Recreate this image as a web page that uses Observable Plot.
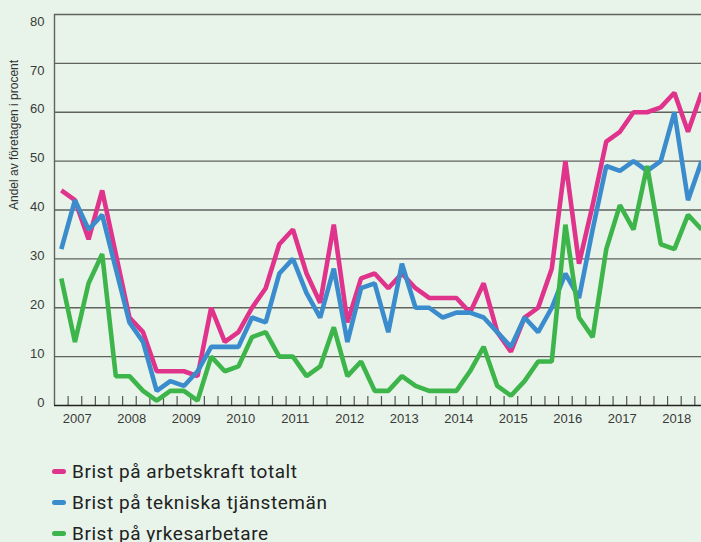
<!DOCTYPE html>
<html>
<head>
<meta charset="utf-8">
<script src="https://cdn.jsdelivr.net/npm/d3@7"></script>
<script src="https://cdn.jsdelivr.net/npm/@observablehq/plot@0.6"></script>
<style>
  html, body { margin: 0; padding: 0; background: #e8f4e9; }
  #chart { width: 701px; height: 542px; position: relative; overflow: hidden; }
  .legend { position: absolute; left: 52px; top: 456px; font-family: Roboto, "Open Sans", sans-serif; font-size: 19px; letter-spacing: 0.55px; color: #222; }
  .legend .row { display: flex; align-items: center; height: 31px; }
  .legend .sw { width: 14px; height: 5px; border-radius: 3px; margin-right: 6px; }
</style>
</head>
<body>
<div id="chart"></div>
<script>
const years = [2007, 2008, 2009, 2010, 2011, 2012, 2013, 2014, 2015, 2016, 2017, 2018];
const seriesNames = ["Brist på arbetskraft totalt", "Brist på tekniska tjänstemän", "Brist på yrkesarbetare"];
const seriesColors = ["#e0338b", "#3b8ccd", "#3db54b"];
const yTicks = [0, 10, 20, 30, 40, 50, 60, 70, 80];
const total = [44,42,34,44,31,18,15,7,7,7,6,20,13,15,20,24,33,36,27,21,37,17,26,27,24,27,24,22,22,22,19,25,15,11,18,20,28,50,29,41,54,56,60,60,61,64,56,64];
const tech  = [32,42,36,39,28,17,13,3,5,4,7,12,12,12,18,17,27,30,23,18,28,13,24,25,15,29,20,20,18,19,19,18,15,12,18,15,20,27,22,36,49,48,50,48,50,60,42,50];
const yrke  = [26,13,25,31,6,6,3,1,3,3,1,10,7,8,14,15,10,10,6,8,16,6,9,3,3,6,4,3,3,3,7,12,4,2,5,9,9,37,18,14,32,41,36,49,33,32,39,36];

const values = [total, tech, yrke];
const rows = [];
values.forEach((arr, s) => arr.forEach((v, i) => rows.push({series: seriesNames[s], q: i + 0.5, value: v})));
const boundaries = d3.range(0, total.length);

const plot = Plot.plot({
  width: 701,
  height: 435,
  marginLeft: 54,
  marginRight: 0,
  marginTop: 14,
  marginBottom: 30,
  style: {background: "transparent", fontFamily: "'Liberation Sans', Arial, sans-serif"},
  x: {type: "linear", domain: [0, 47.49], axis: null},
  y: {domain: [0, 80], axis: null},
  color: {domain: seriesNames, range: seriesColors},
  marks: [
    Plot.ruleY(yTicks.filter(d => d > 0), {stroke: "#5f625f", strokeWidth: 1.4}),
    Plot.ruleX([0], {y1: 0, y2: 80, stroke: "#5f625f", strokeWidth: 1.4}),
    Plot.axisX(boundaries.slice(1), {tickSize: 9, dy: -9, tickFormat: () => "", label: null, stroke: "#555", strokeWidth: 1.2}),
    Plot.axisY(yTicks.filter(d => d <= 60), {tickSize: 0, tickPadding: 10, dy: -3, fontSize: 13, fill: "#3a3a3a", label: null}),
    Plot.axisY(yTicks.filter(d => d > 60), {tickSize: 0, tickPadding: 10, dy: 7, fontSize: 13, fill: "#3a3a3a", label: null}),
    Plot.text(years, {x: d => (d - years[0]) * 4 + 1.67, y: 0, dy: 13, text: d => String(d), fontSize: 13, fill: "#3a3a3a", fontWeight: 500}),
    Plot.text(["Andel av företagen i procent"], {frameAnchor: "left", dx: -40, rotate: -90, fontSize: 12, fill: "#333"}),
    Plot.line(rows, {x: "q", y: "value", z: "series", stroke: "series", strokeWidth: 4.6, strokeLinejoin: "miter", strokeLinecap: "butt"}),
    Plot.ruleY([0], {stroke: "#222", strokeWidth: 1.6})
  ]
});
const chart = document.getElementById("chart");
chart.appendChild(plot);

const legend = document.createElement("div");
legend.className = "legend";
seriesNames.forEach((name, i) => {
  const row = document.createElement("div");
  row.className = "row";
  const sw = document.createElement("span");
  sw.className = "sw";
  sw.style.background = seriesColors[i];
  const label = document.createElement("span");
  label.textContent = name;
  row.appendChild(sw);
  row.appendChild(label);
  legend.appendChild(row);
});
chart.appendChild(legend);
</script>
</body>
</html>
